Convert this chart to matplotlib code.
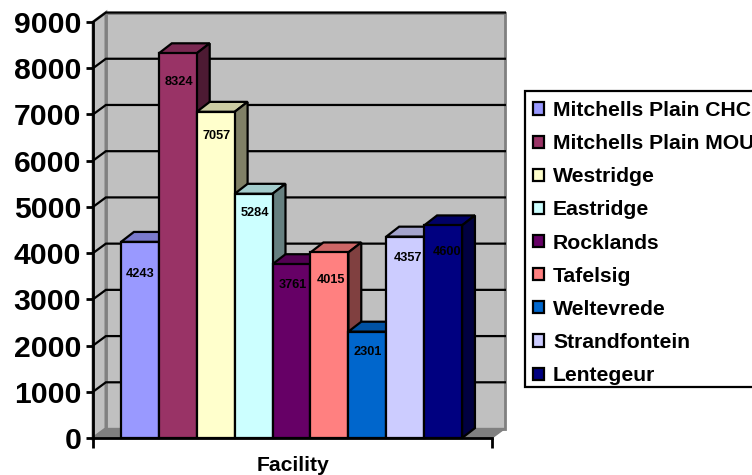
import matplotlib
matplotlib.use('Agg')
import matplotlib.pyplot as plt
from matplotlib.patches import Polygon, Patch, Rectangle

plt.rcParams['font.family'] = ['Liberation Sans', 'DejaVu Sans']
plt.rcParams['font.weight'] = 'bold'

facilities = ['Mitchells Plain CHC', 'Mitchells Plain MOU', 'Westridge', 'Eastridge', 'Rocklands',
              'Tafelsig', 'Weltevrede', 'Strandfontein', 'Lentegeur']
visits = [4243, 8324, 7057, 5284, 3761, 4015, 2301, 4357, 4600]
colors = ['#9999FF', '#993366', '#FFFFCC', '#CCFFFF', '#660066', '#FF8080', '#0066CC', '#CCCCFF', '#000080']
yticks = list(range(0, 10000, 1000))

# how far below the bar top each value label sits, in data units
label_drop = [700, 620, 520, 410, 450, 600, 450, 470, 580]
label_shift = [0, 0.03, 0.03, 0.03, 0.03, 0.03, 0, 0.08, 0.1]

XMIN, XMAX = -0.74, 9.79
YMAX = 9000
DX, DY = 0.34, 205   # depth of the fake 3d box
BAR_DX, BAR_DY = 0.34, 215


def shade(hex_color, f):
    rgb = matplotlib.colors.to_rgb(hex_color)
    return tuple(c * f for c in rgb)


fig = plt.figure(figsize=(7.52, 4.75), dpi=100)
ax = fig.add_axes([93 / 752, 37 / 475, 399 / 752, 416 / 475])
ax.set_xlim(XMIN, XMAX)
ax.set_ylim(0, YMAX)
ax.patch.set_visible(False)


def poly(pts, fc, ec='black', lw=1.6, z=1):
    ax.add_patch(Polygon(pts, closed=True, facecolor=fc, edgecolor=ec, linewidth=lw,
                         joinstyle='miter', clip_on=False, zorder=z))


# walls and floor
poly([(XMIN + DX, DY), (XMAX + DX, DY), (XMAX + DX, YMAX + DY), (XMIN + DX, YMAX + DY)], '#C0C0C0', '#808080', 2)
poly([(XMIN, 0), (XMIN + DX, DY), (XMIN + DX, YMAX + DY), (XMIN, YMAX)], '#C0C0C0', '#808080', 2)
poly([(XMIN, 0), (XMAX, 0), (XMAX + DX, DY), (XMIN + DX, DY)], '#808080', '#808080', 1)

# gridlines run along the side wall and across the back wall
for v in yticks[1:]:
    ax.plot([XMIN, XMIN + DX, XMAX + DX], [v, v + DY, v + DY], color='black', lw=1.6,
            clip_on=False, zorder=1.1, solid_joinstyle='miter')

# bars, left to right so each front covers the previous side face
for i, v in enumerate(visits):
    z = 2 + i * 0.01
    l, r = i, i + 1
    poly([(l, v), (r, v), (r + BAR_DX, v + BAR_DY), (l + BAR_DX, v + BAR_DY)], shade(colors[i], 0.8), z=z)
    poly([(r, 0), (r + BAR_DX, BAR_DY), (r + BAR_DX, v + BAR_DY), (r, v)], shade(colors[i], 0.5), z=z)
    poly([(l, 0), (r, 0), (r, v), (l, v)], colors[i], z=z)
    ax.text(i + 0.5 + label_shift[i], v - label_drop[i], str(v), ha='center', va='center', fontsize=9.2,
            color='black', zorder=3)

for s in ['top', 'right']:
    ax.spines[s].set_visible(False)
for s in ['left', 'bottom']:
    ax.spines[s].set_linewidth(2)
    ax.spines[s].set_zorder(4)

ax.set_yticks(yticks)
ax.set_xticks([XMIN, XMAX])
ax.set_xticklabels([])
ax.tick_params(axis='y', length=5, width=2, labelsize=21.7, pad=3.5)
ax.tick_params(axis='x', length=7, width=2)
ax.set_xlabel('Facility', fontsize=15.2, fontweight='bold', labelpad=2.5)

# legend box runs past the right side of the figure
fig.add_artist(Rectangle((525 / 752, 1 - 387 / 475), 280 / 752, 296 / 475, transform=fig.transFigure,
                         facecolor='white', edgecolor='black', linewidth=1.6, zorder=5))
handles = [Patch(facecolor=c, edgecolor='black', linewidth=1.6) for c in colors]
leg = fig.legend(handles, facilities, loc='upper left', bbox_to_anchor=(533 / 752, 1 - 101 / 475),
                 borderaxespad=0, fontsize=15.2, frameon=False, handlelength=0.5, handleheight=0.5,
                 handletextpad=0.45, labelspacing=0.67, borderpad=0)
leg.set_zorder(6)

fig.savefig('out.png', dpi=100)
